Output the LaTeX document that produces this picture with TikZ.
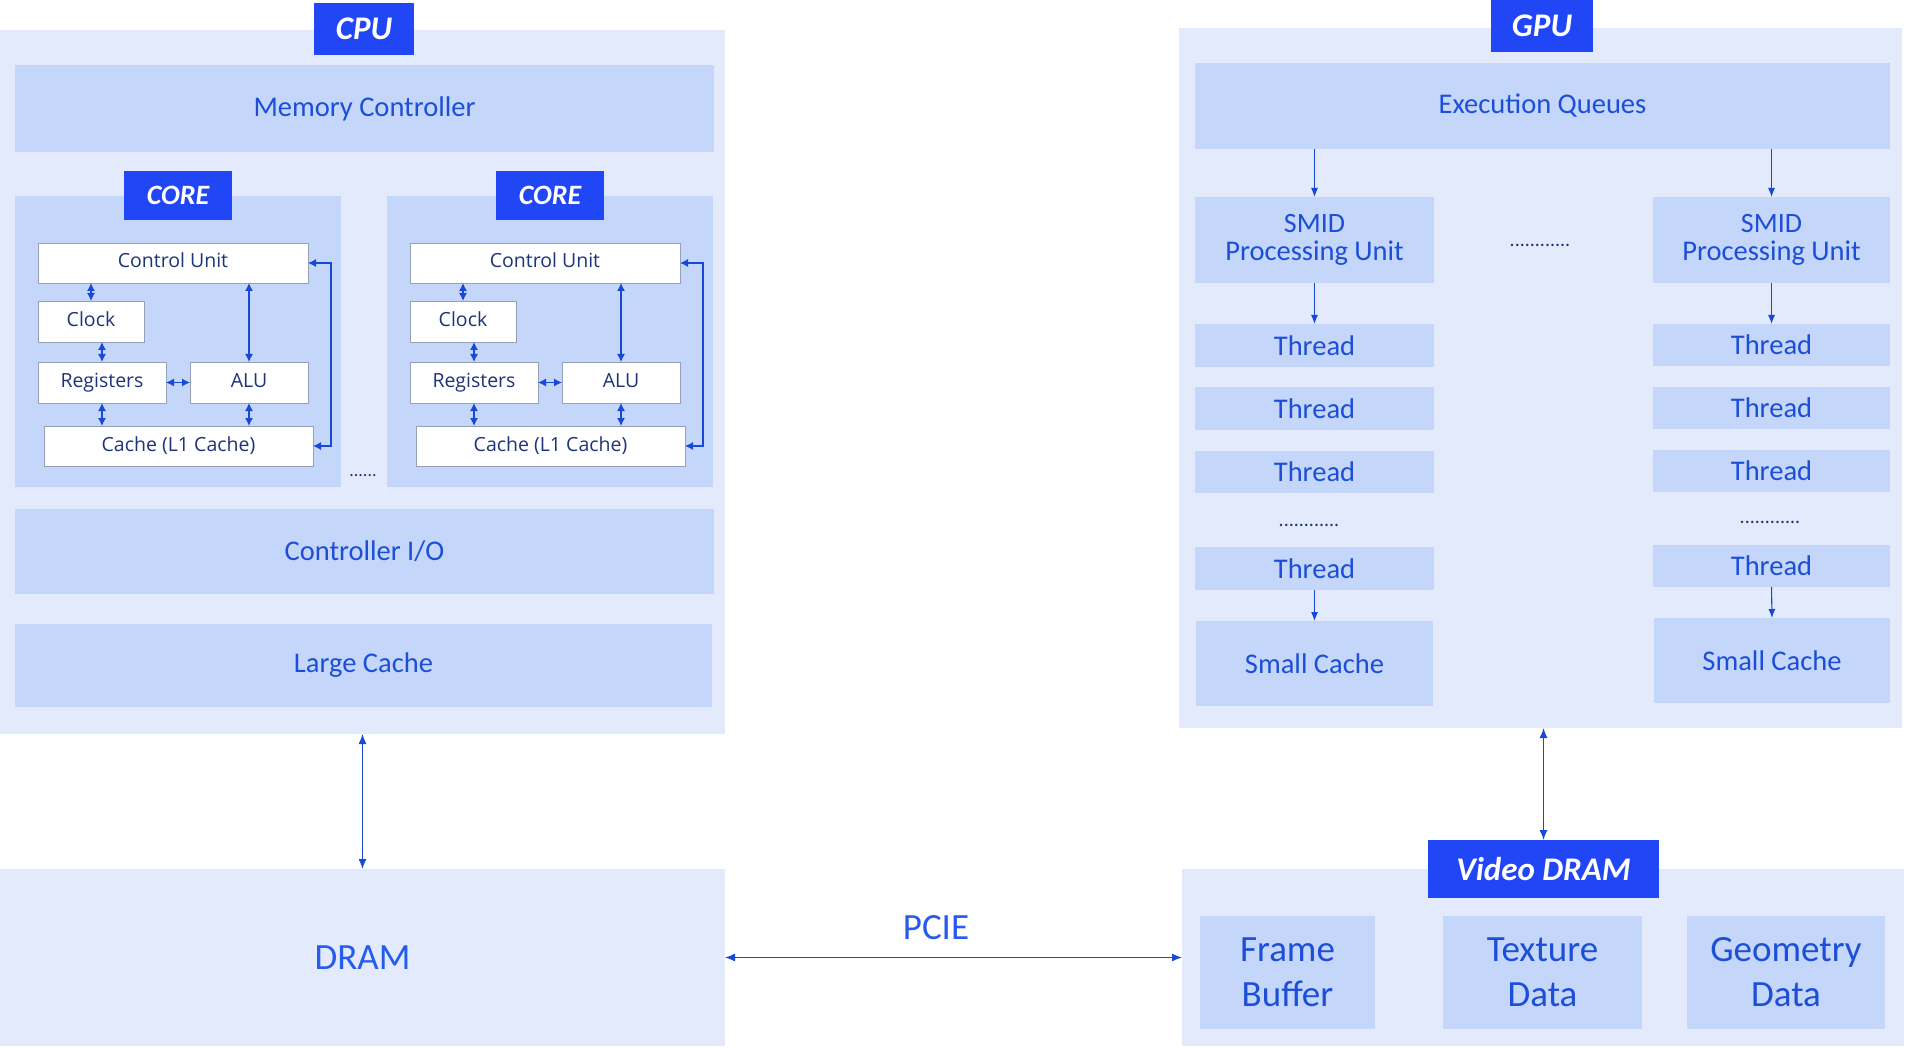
\documentclass[tikz,border=0pt]{standalone}
\usepackage{fontspec}
\setmainfont{Carlito}
\newfontfamily\corefont{Open Sans}
\usetikzlibrary{arrows.meta,calc}
\definecolor{outerbg}{RGB}{227,234,252}
\definecolor{innerbg}{RGB}{196,214,250}
\definecolor{labelblue}{RGB}{33,70,245}
\definecolor{maintext}{RGB}{28,78,215}
\definecolor{brighttext}{RGB}{38,92,238}
\definecolor{navy}{RGB}{30,52,120}
\definecolor{arrowblue}{RGB}{24,72,216}
\definecolor{boxgray}{RGB}{150,160,182}
\newcommand\fs[1]{\fontsize{#1}{#1}\selectfont}
\newcommand\bx[7]{%
  \pgfmathsetmacro\bxw{#5-#3}\pgfmathsetmacro\bxh{#6-#4}%
  \pgfmathsetmacro\bxcx{(#3+#5)/2}\pgfmathsetmacro\bxcy{(#4+#6)/2}%
  \node[#1, minimum width=\bxw pt, minimum height=\bxh pt] (#2) at (\bxcx,\bxcy) {#7};}
\tikzset{
  base/.style={inner sep=0pt, outer sep=0pt, draw=none, align=center},
  outerbox/.style={base, fill=outerbg},
  innerbox/.style={base, fill=innerbg, text=maintext, font=\fs{28.5}},
  bigbox/.style={base, fill=innerbg, text=maintext, font=\fontsize{37}{45}\selectfont},
  labelbox/.style={base, fill=labelblue, text=white, font=\bfseries\itshape\fs{33}},
  corelabel/.style={base, fill=labelblue, text=white, font=\bfseries\itshape\fs{28}},
  whitebox/.style={base, fill=white, draw=boxgray, line width=0.9pt, text=navy, font=\corefont\fs{19.5}, text height=14pt, text depth=4pt},
  dotsnode/.style={inner sep=0pt, text=navy},
  sarr/.style={draw=arrowblue, line width=1.2pt, {Latex[length=8pt,width=8pt]}-{Latex[length=8pt,width=8pt]}},
  garr/.style={draw=arrowblue, line width=1.1pt, -{Latex[length=9pt,width=7pt]}},
  barr/.style={draw=arrowblue, line width=1.3pt, {Latex[length=10pt,width=8pt]}-{Latex[length=10pt,width=8pt]}},
}
\begin{document}
\begin{tikzpicture}[x=1pt,y=-1pt]
\useasboundingbox (0,0) rectangle (1906,1048);
% ---------- CPU ----------
\bx{outerbox}{cpu}{0}{30}{725}{734}{}
\bx{innerbox}{mc}{15}{65}{714}{152}{Memory Controller}
\bx{innerbox}{core1}{15}{196}{341}{487}{}
\bx{innerbox}{core2}{387}{196}{713}{487}{}
\bx{corelabel}{cl1}{124}{171}{232}{220}{CORE}
\bx{corelabel}{cl2}{496}{171}{604}{220}{CORE}
\bx{labelbox}{cpul}{314}{3}{414}{55}{CPU}
% core 1
\bx{whitebox}{cu1}{38}{243}{308}{283}{Control Unit}
\bx{whitebox}{clk1}{38}{301}{144}{342}{Clock}
\bx{whitebox}{reg1}{38}{362}{166}{403}{Registers}
\bx{whitebox}{alu1}{190}{362}{308}{403}{ALU}
\bx{whitebox}{ca1}{44}{426}{313}{466}{Cache (L1 Cache)}
% core 2
\bx{whitebox}{cu2}{410}{243}{680}{283}{Control Unit}
\bx{whitebox}{clk2}{410}{301}{516}{342}{Clock}
\bx{whitebox}{reg2}{410}{362}{538}{403}{Registers}
\bx{whitebox}{alu2}{562}{362}{680}{403}{ALU}
\bx{whitebox}{ca2}{416}{426}{685}{466}{Cache (L1 Cache)}
\foreach \i in {1,2}{
  \draw[sarr] (clk\i.north) -- (clk\i.north |- cu\i.south);
  \draw[sarr] (reg\i.north) -- (reg\i.north |- clk\i.south);
  \draw[sarr] (alu\i.north) -- (alu\i.north |- cu\i.south);
  \draw[sarr] (reg\i.east) -- (alu\i.west);
  \draw[sarr] (reg\i.south) -- (reg\i.south |- ca\i.north);
  \draw[sarr] (alu\i.south) -- (alu\i.south |- ca\i.north);
  \draw[sarr] (cu\i.east) -- ++(23,0) |- (ca\i.east);
}
\node[dotsnode, font=\fs{18}] (cdots) at (363,476) {......};
\bx{innerbox}{cio}{15}{509}{714}{594}{Controller I/O}
\bx{innerbox}{lc}{15}{624}{712}{707}{Large Cache}
% ---------- DRAM ----------
\bx{outerbox}{dram}{0}{869}{725}{1046}{}
\node[text=brighttext, font=\fs{37}] (dramtext) at (dram.center) {DRAM};
\draw[barr] (cpu.south) -- (dram.north);
% ---------- GPU ----------
\bx{outerbox}{gpu}{1179}{28}{1902}{728}{}
\bx{labelbox}{gpul}{1491}{0}{1593}{52}{GPU}
\bx{innerbox}{eq}{1195}{63}{1890}{149}{Execution Queues}
\bx{innerbox}{smid1}{1195}{197}{1434}{283}{\fontsize{28}{34}\selectfont SMID\\Processing Unit}
\bx{innerbox}{smid2}{1653}{197}{1890}{283}{\fontsize{28}{34}\selectfont SMID\\Processing Unit}
\node[dotsnode, font=\fs{20}] (gdots) at (1540,245) {............};
\bx{innerbox}{t11}{1195}{324}{1434}{367}{Thread}
\bx{innerbox}{t12}{1195}{387}{1434}{430}{Thread}
\bx{innerbox}{t13}{1195}{451}{1434}{493}{Thread}
\node[dotsnode, font=\fs{20}] (ld) at (1309,525) {............};
\bx{innerbox}{t14}{1195}{547}{1434}{590}{Thread}
\bx{innerbox}{sc1}{1196}{621}{1433}{706}{Small Cache}
\bx{innerbox}{t21}{1653}{324}{1890}{366}{Thread}
\bx{innerbox}{t22}{1653}{387}{1890}{429}{Thread}
\bx{innerbox}{t23}{1653}{450}{1890}{492}{Thread}
\node[dotsnode, font=\fs{20}] (rd) at (1770,522) {............};
\bx{innerbox}{t24}{1653}{545}{1890}{587}{Thread}
\bx{innerbox}{sc2}{1654}{618}{1890}{703}{Small Cache}
\draw[garr] (smid1.north |- eq.south) -- (smid1.north);
\draw[garr] (smid2.north |- eq.south) -- (smid2.north);
\draw[garr] (smid1.south) -- (t11.north);
\draw[garr] (smid2.south) -- (t21.north);
\draw[garr] (t14.south) -- (sc1.north);
\draw[garr] (t24.south) -- (sc2.north);
% ---------- Video DRAM ----------
\bx{outerbox}{vdram}{1182}{869}{1904}{1046}{}
\bx{labelbox}{vdl}{1428}{840}{1659}{898}{\fs{33}Video DRAM}
\bx{bigbox}{fb}{1200}{916}{1375}{1029}{Frame\\Buffer}
\bx{bigbox}{td}{1443}{916}{1642}{1029}{Texture\\Data}
\bx{bigbox}{gd}{1687}{916}{1885}{1029}{Geometry\\Data}
\draw[barr] (vdl.north) -- (vdl.north |- gpu.south);
% ---------- PCIE ----------
\draw[barr] (dram.east) -- (vdram.west);
\node[text=brighttext, font=\fs{37}, inner sep=0pt] (pcie) at (936,928) {PCIE};
\end{tikzpicture}
\end{document}
